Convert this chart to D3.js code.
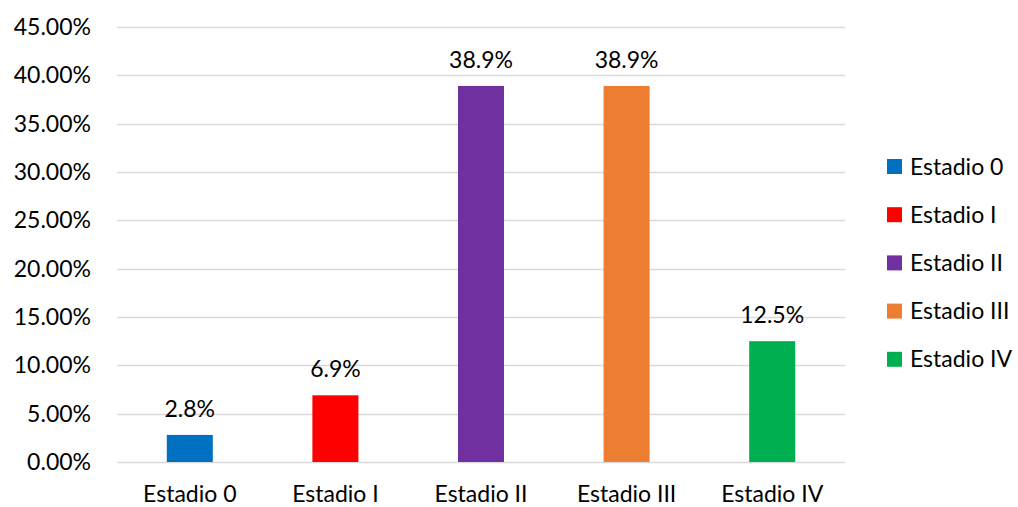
<!DOCTYPE html>
<html><head><meta charset="utf-8">
<script src="https://cdn.jsdelivr.net/npm/d3@7"></script>
<style>body{margin:0;background:#fff}svg{display:block}text{font-family:Lato,"Open Sans",sans-serif;fill:#000}</style>
</head><body>
<svg id="c" width="1018" height="507"></svg>
<script>
const categories = ["Estadio 0","Estadio I","Estadio II","Estadio III","Estadio IV"];
const values = [0.028, 0.069, 0.389, 0.389, 0.125];
const valueLabels = ["2.8%","6.9%","38.9%","38.9%","12.5%"];
const colors = ["#0070C0","#FF0000","#7030A0","#ED7D31","#00B050"];
const yTicks = [0,0.05,0.10,0.15,0.20,0.25,0.30,0.35,0.40,0.45];

const svg = d3.select("#c");
const m = {left:117, right:1018-845, top:27, bottom:507-462};
const W = 1018, H = 507;
const x = d3.scaleBand().domain(categories).range([m.left, W-m.right]).paddingInner(0.684).paddingOuter(0.342);
const y = d3.scaleLinear().domain([0,0.45]).range([H-m.bottom, m.top]);

const fs = 23;
svg.append("g").selectAll("line").data(yTicks).join("line")
  .attr("x1", m.left).attr("x2", W-m.right)
  .attr("y1", d=>Math.round(y(d))+0.5).attr("y2", d=>Math.round(y(d))+0.5)
  .attr("stroke","#d9d9d9").attr("stroke-width",1.5);

const yAxis = svg.append("g").attr("transform",`translate(${m.left},0)`)
  .call(d3.axisLeft(y).tickValues(yTicks).tickFormat(d3.format(".2%")).tickSize(0).tickPadding(26));
yAxis.select(".domain").remove();
yAxis.selectAll("text").style("font-size",fs+"px").style("font-family","Lato,'Open Sans',sans-serif").attr("fill","#000");

svg.append("g").selectAll("rect").data(categories).join("rect")
  .attr("x", d=>x(d)).attr("width", x.bandwidth())
  .attr("y", (d,i)=>y(values[i])).attr("height",(d,i)=>y(0)-y(values[i]))
  .attr("fill",(d,i)=>colors[i]);

svg.append("g").selectAll("text").data(categories).join("text")
  .attr("x", d=>x(d)+x.bandwidth()/2).attr("y",(d,i)=>y(values[i])-18)
  .attr("text-anchor","middle").style("font-size",fs+"px")
  .text((d,i)=>valueLabels[i]);

const xAxis = svg.append("g").attr("transform",`translate(0,${y(0)})`)
  .call(d3.axisBottom(x).tickSize(0).tickPadding(24));
xAxis.select(".domain").remove();
xAxis.selectAll("text").style("font-size",fs+"px").style("font-family","Lato,'Open Sans',sans-serif").attr("fill","#000");

const leg = svg.append("g").selectAll("g").data(categories).join("g")
  .attr("transform",(d,i)=>`translate(887,${159+i*48.2})`);
leg.append("rect").attr("width",15).attr("height",15).attr("fill",(d,i)=>colors[i]);
leg.append("text").attr("x",23).attr("y",7.5).attr("dy","0.35em").style("font-size",fs+"px").text(d=>d);
</script>
</body></html>
